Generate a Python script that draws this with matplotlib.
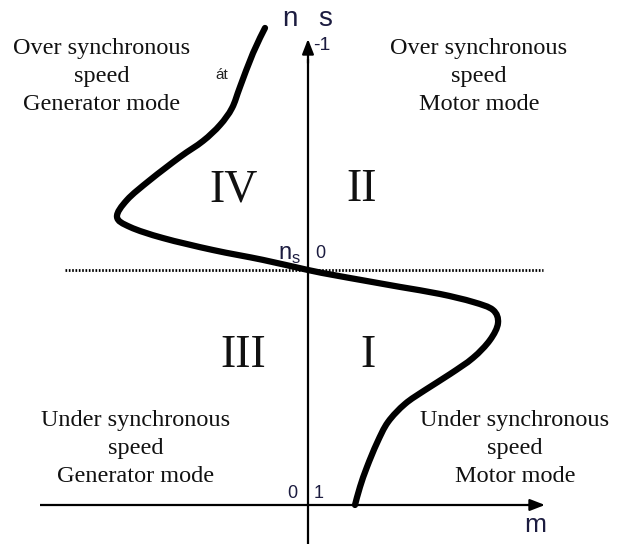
import matplotlib
matplotlib.use("Agg")
import matplotlib.pyplot as plt
from matplotlib.path import Path
from matplotlib.patches import PathPatch

# Torque-speed characteristic (m = torque, n = speed, n_s = 1 -> slip 0)
curve_m = [0.47, 0.52, 0.59, 0.69, 0.80, 0.97, 1.17, 1.42, 1.65, 1.82, 1.90, 1.85,
           1.65, 1.32, 0.92, 0.59, 0.25, 0.0, -0.45, -0.95, -1.45, -1.78, -1.91,
           -1.81, -1.58, -1.28, -1.05, -0.88, -0.76, -0.68, -0.55, -0.43]
curve_n = [0.0, 0.077, 0.162, 0.264, 0.353, 0.430, 0.489, 0.557, 0.626, 0.702, 0.774, 0.830,
           0.864, 0.898, 0.928, 0.953, 0.979, 1.0, 1.043, 1.085, 1.136, 1.183, 1.226,
           1.298, 1.383, 1.481, 1.549, 1.617, 1.689, 1.779, 1.923, 2.030]

quadrant_labels = ["IV", "II", "III", "I"]
quadrant_pos = [(-0.74, 1.34), (0.54, 1.34), (-0.65, 0.635), (0.60, 0.635)]

mode_texts = ["Over synchronous\nspeed\nGenerator mode",
              "Over synchronous\nspeed\nMotor mode",
              "Under synchronous\nspeed\nGenerator mode",
              "Under synchronous\nspeed\nMotor mode"]
mode_pos = [(-2.06, 1.824), (1.71, 1.824), (-1.72, 0.24), (2.07, 0.24)]

fig = plt.figure(figsize=(6.26, 5.44), dpi=100)
ax = fig.add_axes([0, 0, 1, 1])
ax.set_xlim(-3.08, 3.18)
ax.set_ylim(-0.166, 2.149)
ax.axis("off")

serif = "Liberation Serif"
sans = "Liberation Sans"
lab_col = "#1c1c40"

# axes
ax.plot([-2.68, 2.30], [0, 0], color="black", lw=1.6, solid_capstyle="butt")
ax.annotate("", xy=(2.37, 0), xytext=(2.20, 0),
            arrowprops=dict(arrowstyle="-|>,head_length=0.9,head_width=0.35",
                            color="black", lw=1.6, shrinkA=0, shrinkB=0))
ax.plot([0, 0], [-0.17, 1.90], color="black", lw=1.6, solid_capstyle="butt")
ax.annotate("", xy=(0, 1.983), xytext=(0, 1.88),
            arrowprops=dict(arrowstyle="-|>,head_length=0.9,head_width=0.35",
                            color="black", lw=1.6, shrinkA=0, shrinkB=0))

# synchronous speed dotted line
ax.plot([-2.43, 2.35], [1.0, 1.0], color="black", lw=2.0, linestyle=(0, (0.6, 0.6)))

# characteristic curve drawn as a smooth Bezier path through the read points
pts = list(zip(curve_m, curve_n))
verts = [pts[0]]
codes = [Path.MOVETO]
for i in range(len(pts) - 1):
    p0 = pts[i - 1] if i > 0 else pts[i]
    p1 = pts[i]
    p2 = pts[i + 1]
    p3 = pts[i + 2] if i + 2 < len(pts) else pts[i + 1]
    c1 = (p1[0] + (p2[0] - p0[0]) / 6, p1[1] + (p2[1] - p0[1]) / 6)
    c2 = (p2[0] - (p3[0] - p1[0]) / 6, p2[1] - (p3[1] - p1[1]) / 6)
    verts += [c1, c2, p2]
    codes += [Path.CURVE4] * 3
ax.add_patch(PathPatch(Path(verts, codes), facecolor="none", edgecolor="black",
                       lw=4.5, capstyle="round", joinstyle="round"))

# axis labels
ax.text(-0.18, 2.07, "n", fontsize=20, family=sans, color=lab_col, ha="center", va="center")
ax.text(0.17, 2.07, "s", fontsize=20, family=sans, color=lab_col, ha="center", va="center")
ax.text(0.14, 1.955, "-1", fontsize=14, family=sans, color=lab_col, ha="center", va="center")
ax.text(-0.18, 1.065, "n$_\\mathregular{s}$", fontsize=17, family=sans, color=lab_col,
        ha="center", va="center")
ax.text(0.12, 1.07, "0", fontsize=13, family=sans, color=lab_col, ha="center", va="center")
ax.text(-0.16, 0.05, "0", fontsize=13, family=sans, color=lab_col, ha="center", va="center")
ax.text(0.11, 0.05, "1", fontsize=13, family=sans, color=lab_col, ha="center", va="center")
ax.text(2.27, -0.085, "m", fontsize=19, family=sans, color=lab_col, ha="center", va="center")
ax.text(-0.86, 1.83, "át", fontsize=11, family=sans, color="#222222", ha="center", va="center")

for lab, (x, y) in zip(quadrant_labels, quadrant_pos):
    ax.text(x, y, lab, fontsize=33, family=serif, color="#111111", ha="center", va="center")

for txt, (x, y) in zip(mode_texts, mode_pos):
    ax.text(x, y, txt, fontsize=17.5, family=serif, color="#111111", ha="center", va="center",
            linespacing=1.45)

fig.savefig("out.png", dpi=100)
